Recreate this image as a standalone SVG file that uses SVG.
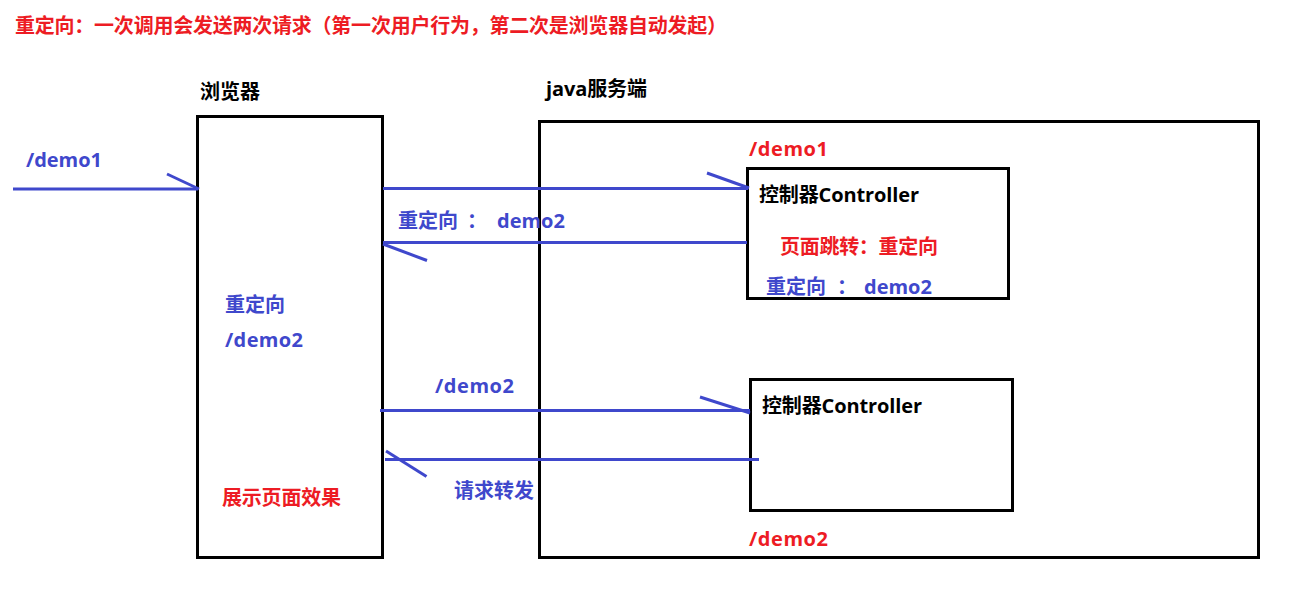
<svg xmlns="http://www.w3.org/2000/svg" width="1315" height="599" viewBox="0 0 1315 599">
<style>
text{font-family:"Open Sans","Noto Sans CJK SC",sans-serif;font-weight:bold;font-size:20px}
.r{fill:#ed1c24}
.b{fill:#3f48cc}
.k{fill:#000}
.box{fill:none;stroke:#000;stroke-width:3}
.ln{stroke:#3f48cc;stroke-width:3;fill:none}
</style>
<rect width="1315" height="599" fill="#fff"/>
<text class="r" x="15" y="33" font-size="21" textLength="712">重定向：一次调用会发送两次请求（第一次用户行为，第二次是浏览器自动发起）</text>
<g id="browser">
<rect class="box" x="197.5" y="116.5" width="185" height="441"/>
<text class="k" x="200" y="99" font-size="18" textLength="60">浏览器</text>
<text class="b" x="225" y="312" textLength="60">重定向</text>
<text class="b" x="225" y="347" textLength="78">/demo2</text>
<text class="r" x="222" y="505" textLength="119">展示页面效果</text>
</g>
<g id="server">
<rect class="box" x="539.5" y="121.5" width="719" height="436"/>
<text class="k" x="546" y="96" textLength="101">java服务端</text>
<text class="r" x="749" y="156" textLength="79">/demo1</text>
<text class="r" x="749" y="546" textLength="79">/demo2</text>
</g>
<g id="controller1">
<rect class="box" x="747.5" y="168.5" width="261" height="130"/>
<text class="k" x="759" y="202" textLength="160">控制器Controller</text>
<text class="r" x="780" y="254" textLength="158">页面跳转：重定向</text>
<text class="b" y="294"><tspan x="766">重定向</tspan><tspan x="837">：</tspan><tspan x="864">demo2</tspan></text>
</g>
<g id="controller2">
<rect class="box" x="750.5" y="379.5" width="262" height="131"/>
<text class="k" x="762" y="413" textLength="160">控制器Controller</text>
</g>
<g id="connectors">
<line class="ln" x1="13" y1="189" x2="198" y2="189"/>
<line class="ln" x1="167" y1="174" x2="199" y2="189"/>
<text class="b" x="26" y="167" textLength="76">/demo1</text>
<line class="ln" x1="383" y1="188.5" x2="748" y2="188.5"/>
<line class="ln" x1="707" y1="173" x2="749" y2="188"/>
<line class="ln" x1="383" y1="242.5" x2="747" y2="242.5"/>
<line class="ln" x1="383" y1="244" x2="427" y2="260.5"/>
<text class="b" y="228"><tspan x="398">重定向</tspan><tspan x="467">：</tspan><tspan x="497">demo2</tspan></text>
<line class="ln" x1="380" y1="410.5" x2="750" y2="410.5"/>
<line class="ln" x1="700" y1="397" x2="750" y2="413"/>
<text class="b" x="435" y="393" textLength="79">/demo2</text>
<line class="ln" x1="385" y1="459.5" x2="759" y2="459.5"/>
<line class="ln" x1="386" y1="451" x2="426.5" y2="476.5"/>
<text class="b" x="454" y="498" textLength="80">请求转发</text>
</g>
</svg>
